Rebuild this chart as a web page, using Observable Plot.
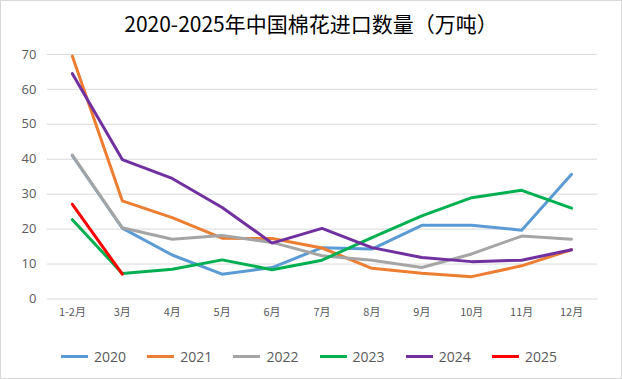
<!DOCTYPE html>
<html><head><meta charset="utf-8">
<script src="https://cdn.jsdelivr.net/npm/d3@7"></script>
<script src="https://cdn.jsdelivr.net/npm/@observablehq/plot@0.6"></script>
<style>
html,body{margin:0;padding:0;background:#fff;}
#wrap{position:relative;width:622px;height:379px;box-sizing:border-box;border:1px solid #d9d9d9;background:#fff;overflow:hidden;}
#title{position:absolute;left:0;top:7px;width:620px;text-align:center;font:21px "Noto Sans CJK SC",sans-serif;color:#000;}
#chart{position:absolute;left:-1px;top:-1px;}
#legend{position:absolute;top:345px;left:0;width:620px;font:14px "Open Sans","Noto Sans",sans-serif;color:#595959;}
.item{position:absolute;top:0;height:20px;display:flex;align-items:center;}
.sw{width:27px;height:3px;margin-right:6px;}
</style></head>
<body><div id="wrap"><div id="title">2020-2025年中国棉花进口数量（万吨）</div><div id="chart"></div><div id="legend"></div></div>
<script>
const months = ["1-2月","3月","4月","5月","6月","7月","8月","9月","10月","11月","12月"];
const years = ["2020","2021","2022","2023","2024","2025"];
const colors = ["#5B9BD5","#ED7D31","#A5A5A5","#00B050","#7030A0","#FF0000"];
const v2020 = [41, 20.3, 12.6, 7.1, 9.0, 14.7, 14.3, 21.1, 21.1, 19.7, 35.7];
const v2021 = [69.5, 28.1, 23.3, 17.4, 17.3, 14.6, 8.8, 7.4, 6.4, 9.5, 14.1];
const v2022 = [41.2, 20.4, 17.1, 18.2, 16.2, 12.4, 11.1, 9.0, 12.9, 18.0, 17.1];
const v2023 = [22.7, 7.3, 8.5, 11.2, 8.4, 11.1, 17.6, 23.8, 29.0, 31.1, 26.0];
const v2024 = [64.5, 39.9, 34.5, 26.2, 16.0, 20.2, 14.7, 11.9, 10.7, 11.1, 14.1];
const v2025 = [27.1, 7.1];
const yTicks = [0,10,20,30,40,50,60,70];

const series = [v2020, v2021, v2022, v2023, v2024, v2025];
const data = [];
series.forEach((vals, i) => vals.forEach((v, j) => data.push({year: years[i], month: months[j], value: v})));

const W = 622, H = 340;
const chart = Plot.plot({
  width: W, height: H,
  marginTop: 54, marginBottom: H - 299, marginLeft: 47, marginRight: 24,
  style: {background: "transparent", overflow: "visible"},
  x: {type: "point", domain: months, range: [72, 572], padding: 0},
  y: {domain: [0, 70]},
  color: {domain: years, range: colors},
  marks: [
    Plot.ruleY(yTicks, {stroke: "#d9d9d9", strokeWidth: 1}),
    Plot.axisY(yTicks, {tickSize: 0, tickPadding: 11, fontSize: 13, fill: "#595959", fontFamily: "Open Sans, sans-serif", label: null}),
    Plot.axisX({tickSize: 0, tickPadding: 9, fontSize: 11, fill: "#595959", fontFamily: "Noto Sans CJK SC, sans-serif", label: null}),
    Plot.line(data, {x: "month", y: "value", z: "year", stroke: "year", strokeWidth: 3, strokeLinejoin: "round", strokeLinecap: "round"})
  ]
});
document.getElementById("chart").appendChild(chart);

const legend = document.getElementById("legend");
years.forEach((y, i) => {
  const it = document.createElement("div");
  it.className = "item";
  it.style.left = (60 + i * 86.2) + "px";
  it.innerHTML = `<span class="sw" style="background:${colors[i]}"></span><span>${y}</span>`;
  legend.appendChild(it);
});
</script></body></html>
